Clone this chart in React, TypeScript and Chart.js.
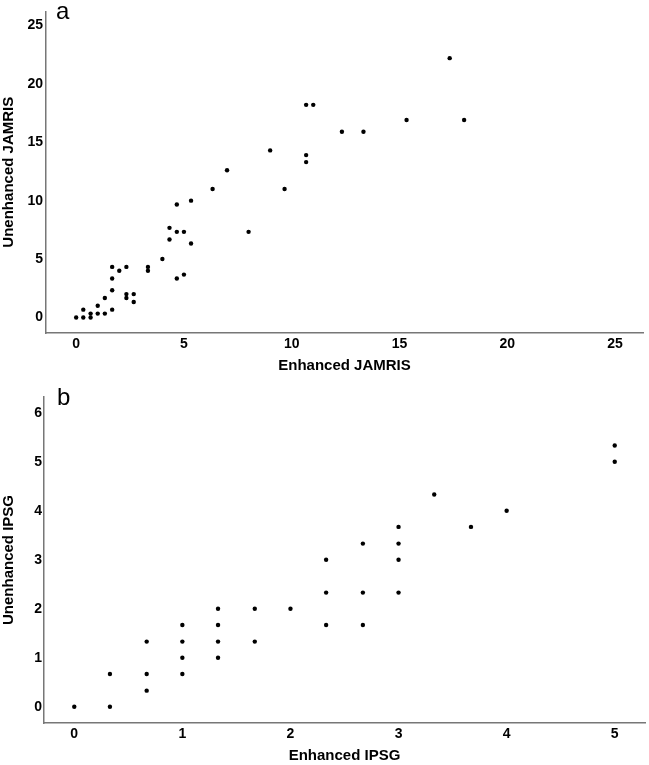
import React, { useEffect, useRef } from "react";
import { Chart, registerables } from "chart.js";

Chart.register(...registerables);

// Panel a: JAMRIS
const jamrisEnhanced = [0, 0.33, 0.33, 0.67, 0.67, 1, 1, 1.33, 1.33, 1.67, 1.67, 1.67, 1.67, 2, 2.33, 2.33, 2.33, 2.67, 2.67, 3.33, 3.33, 4, 4.33, 4.33, 4.67, 4.67, 4.67, 5, 5, 5.33, 5.33, 6.33, 8, 9.67, 7, 9, 10.67, 11, 10.67, 10.67, 17.33, 15.33, 18, 12.33, 13.33];
const jamrisUnenhanced = [0, 0, 0.67, 0, 0.33, 1, 0.33, 0.33, 1.67, 0.67, 2.33, 3.33, 4.33, 4, 4.33, 2, 1.67, 2, 1.33, 4.33, 4, 5, 7.67, 6.67, 9.67, 7.33, 3.33, 7.33, 3.67, 10, 6.33, 11, 7.33, 11, 12.6, 14.3, 18.2, 18.2, 13.9, 13.3, 22.2, 16.9, 16.9, 15.9, 15.9];

// Panel b: IPSG
const ipsgEnhanced = [0, 0.33, 0.33, 0.67, 0.67, 0.67, 1, 1, 1, 1, 1.33, 1.33, 1.33, 1.33, 1.67, 1.67, 2, 2.33, 2.33, 2.33, 2.67, 2.67, 2.67, 3, 3, 3, 3, 3.33, 3.67, 4, 5, 5];
const ipsgUnenhanced = [0, 0, 0.67, 1.33, 0.67, 0.33, 1.67, 1.33, 1, 0.67, 2, 1.67, 1.33, 1, 2, 1.33, 2, 3, 2.33, 1.67, 3.33, 2.33, 1.67, 3.67, 3.33, 3, 2.33, 4.33, 3.67, 4, 5.33, 5];

const FONT = "'Liberation Sans', Arial, Helvetica, sans-serif";

type PanelProps = {
  xs: number[];
  ys: number[];
  letter: string;
  xTitle: string;
  yTitle: string;
  xMin: number; xMax: number; xStep: number;
  yMin: number; yMax: number; yStep: number;
  height: number;
  yWidth: number;
  xHeight: number;
  padding: { top: number; right: number; bottom: number; left: number };
  tickPadY: number;
  letterX: number;
  letterY: number;
};

function Panel(p: PanelProps) {
  const ref = useRef<HTMLCanvasElement | null>(null);
  useEffect(() => {
    if (!ref.current) return;
    const letterPlugin = {
      id: "letter",
      afterDraw(chart: any) {
        const ctx = chart.ctx;
        ctx.save();
        ctx.font = `24px ${FONT}`;
        ctx.fillStyle = "#000";
        ctx.textBaseline = "alphabetic";
        ctx.textAlign = "left";
        ctx.fillText(p.letter, p.letterX, p.letterY);
        ctx.restore();
      },
    };
    const chart = new Chart(ref.current, {
      type: "scatter",
      data: {
        datasets: [
          {
            data: p.xs.map((x, i) => ({ x, y: p.ys[i] })),
            backgroundColor: "#000",
            borderColor: "#000",
            pointRadius: 2.2,
            pointBorderWidth: 0,
          },
        ],
      },
      options: {
        animation: false,
        responsive: false,
        maintainAspectRatio: false,
        layout: { padding: p.padding },
        plugins: { legend: { display: false }, tooltip: { enabled: false } },
        scales: {
          x: {
            type: "linear",
            min: p.xMin,
            max: p.xMax,
            grid: { display: false, drawTicks: false },
            border: { display: true, color: "#777", width: 1.5 },
            ticks: {
              stepSize: p.xStep,
              includeBounds: false,
              color: "#000",
              padding: 3,
              font: { family: FONT, size: 14, weight: "bold" },
            },
            title: {
              display: true,
              text: p.xTitle,
              color: "#000",
              padding: 0,
              font: { family: FONT, size: 15, weight: "bold" },
            },
            afterFit: (s: any) => { s.height = p.xHeight; },
          },
          y: {
            type: "linear",
            min: p.yMin,
            max: p.yMax,
            grid: { display: false, drawTicks: false },
            border: { display: true, color: "#777", width: 1.5 },
            ticks: {
              stepSize: p.yStep,
              includeBounds: false,
              color: "#000",
              padding: p.tickPadY,
              font: { family: FONT, size: 14, weight: "bold" },
            },
            title: {
              display: true,
              text: p.yTitle,
              color: "#000",
              padding: 0,
              font: { family: FONT, size: 15, weight: "bold" },
            },
            afterFit: (s: any) => { s.width = p.yWidth; },
          },
        },
      },
      plugins: [letterPlugin],
    });
    return () => chart.destroy();
  }, []);
  return (
    <div style={{ width: 649, height: p.height, position: "relative" }}>
      <canvas ref={ref} width={649} height={p.height} style={{ display: "block", width: 649, height: p.height }} />
    </div>
  );
}

export default function App() {
  return (
    <div style={{ position: "absolute", left: 0, top: 0, width: 649, height: 765, background: "#fff" }}>
      <Panel
        xs={jamrisEnhanced}
        ys={jamrisUnenhanced}
        letter="a"
        xTitle="Enhanced JAMRIS"
        yTitle="Unenhanced JAMRIS"
        xMin={-1.4} xMax={26.3} xStep={5}
        yMin={-1.33} yMax={26.2} yStep={5}
        height={382}
        yWidth={46}
        xHeight={42}
        padding={{ top: 2, right: 6, bottom: 7, left: 0 }}
        tickPadY={3}
        letterX={56}
        letterY={19}
      />
      <Panel
        xs={ipsgEnhanced}
        ys={ipsgUnenhanced}
        letter="b"
        xTitle="Enhanced IPSG"
        yTitle="Unenhanced IPSG"
        xMin={-0.28} xMax={5.28} xStep={1}
        yMin={-0.33} yMax={6.32} yStep={1}
        height={383}
        yWidth={44}
        xHeight={42}
        padding={{ top: 15, right: 2, bottom: 0, left: 0 }}
        tickPadY={2}
        letterX={57}
        letterY={23}
      />
    </div>
  );
}
